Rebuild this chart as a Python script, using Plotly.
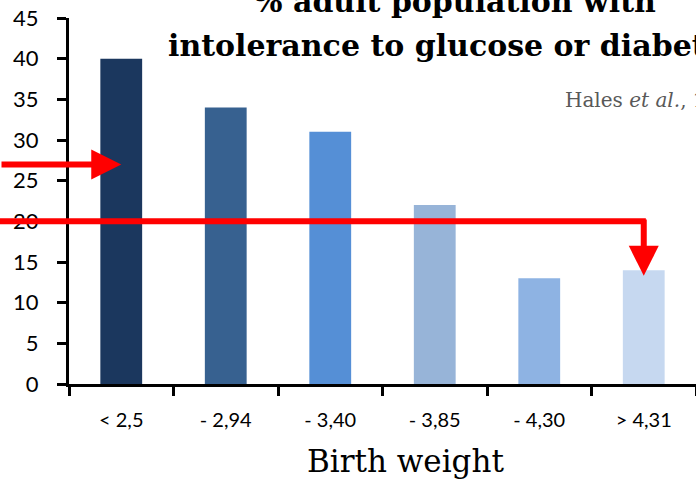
import plotly.graph_objects as go

categories = ["< 2,5", "- 2,94", "- 3,40", "- 3,85", "- 4,30", "> 4,31"]
values = [40, 34, 31, 22, 13, 14]
bar_colors = ["#1B375E", "#376190", "#558FD6", "#97B4D8", "#8EB3E3", "#C6D8F0"]
y_ticks = [0, 5, 10, 15, 20, 25, 30, 35, 40, 45]

title_line1 = "% adult population with"
title_line2 = "intolerance to glucose or diabetes"
source_text = "Hales <i>et al.</i>, 1991"
x_title = "Birth weight"

fig = go.Figure(go.Bar(x=categories, y=values, marker=dict(color=bar_colors, line=dict(width=0))))

serif = "DejaVu Serif, Liberation Serif, serif"
sans = "Lato, Carlito, Open Sans, sans-serif"

fig.update_layout(
    width=696, height=482,
    margin=dict(l=69, r=0, t=18, b=98, autoexpand=False),
    plot_bgcolor="white", paper_bgcolor="white",
    bargap=0.6,
    showlegend=False,
    xaxis=dict(
        type="category", range=[-0.5, 5.5], showline=True, linecolor="black", linewidth=3,
        ticks="outside", tickson="boundaries", ticklen=9, tickwidth=3, tickcolor="black",
        tickfont=dict(family=sans, size=20, color="black"),
        ticklabelstandoff=16, showgrid=False, zeroline=False,
    ),
    yaxis=dict(
        range=[0, 45], tickvals=y_ticks, showline=True, linecolor="black", linewidth=3,
        ticks="outside", ticklen=9, tickwidth=3, tickcolor="black",
        tickfont=dict(family=sans, size=22, color="black"),
        ticklabelstandoff=14, showgrid=False, zeroline=False,
    ),
)

red = "#FF0000"
annotations = [
    dict(xref="paper", yref="paper", x=0.615, y=1.046, xanchor="center", yanchor="middle",
         text="<b>" + title_line1 + "</b>", showarrow=False,
         font=dict(family=serif, size=30, color="black")),
    dict(xref="paper", yref="paper", x=0.615, y=0.926, xanchor="center", yanchor="middle",
         text="<b>" + title_line2 + "</b>", showarrow=False,
         font=dict(family=serif, size=30, color="black")),
    dict(xref="paper", yref="paper", x=0.788, y=0.776, xanchor="left", yanchor="middle",
         text=source_text, showarrow=False, font=dict(family=serif, size=20, color="#595959")),
    dict(xref="paper", yref="paper", x=0.536, y=-0.21, xanchor="center", yanchor="middle",
         text=x_title, showarrow=False, font=dict(family=serif, size=31, color="black")),
    # arrow to first bar
    dict(x=0, y=27, xref="x", yref="y", ax=-135, ay=0, text="", showarrow=True,
         arrowhead=2, arrowwidth=6, arrowsize=1, arrowcolor=red),
    # horizontal line at 20
    dict(x=5.02, y=20, xref="x", yref="y", axref="x", ayref="y", ax=-1.3, ay=20, text="",
         showarrow=True, arrowhead=0, arrowwidth=6, arrowcolor=red),
    # vertical arrow down to last bar
    dict(x=5, y=13.3, xref="x", yref="y", axref="x", ayref="y", ax=5, ay=20.4, text="",
         showarrow=True, arrowhead=2, arrowwidth=6, arrowsize=1, arrowcolor=red),
]
fig.update_layout(annotations=annotations)

fig.write_html("out.html", config={"displayModeBar": False},
               post_script="document.body.style.margin='0';")
